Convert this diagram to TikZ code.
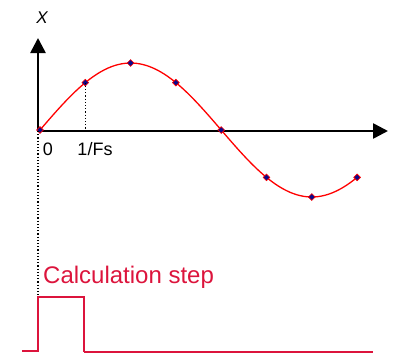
\documentclass[tikz,border=0pt]{standalone}
\usepackage{fontspec}
\setmainfont{Liberation Sans}
\usetikzlibrary{arrows.meta,shapes.geometric}
\definecolor{mycrimson}{RGB}{220,20,60}
\definecolor{mynavy}{RGB}{10,10,140}

\begin{document}
\begin{tikzpicture}[x=1pt, y=-1pt,
  axis/.style={line width=2.6pt, -{Triangle[length=15pt,width=15pt]}},
  wave/.style={red, line width=1.3pt},
  sample/.style={diamond, fill=mynavy, draw=red, line width=0.6pt, inner sep=0pt, minimum size=7pt},
  guide/.style={dotted, line width=1.2pt},
  pulse/.style={mycrimson, line width=1.8pt},
  lbl/.style={inner sep=0pt, anchor=base, font=\fontsize{18}{20}\selectfont}
]
\useasboundingbox (0,0) rectangle (393,354);
\coordinate (o) at (38,131);
\draw[axis] (o) -- (38,38) coordinate (ytip);
\draw[axis] (o) -- (388,131) coordinate (xtip);
\node[inner sep=0pt, font=\fontsize{17}{20}\selectfont\itshape] (xlab) at (42,18) {X};
\draw[wave] plot[domain=0:7, samples=90] ({40+45.3*\x},{130-67*sin(45*\x)});
\foreach \i in {0,...,7}
  \node[sample] (s\i) at ({40+45.3*\i},{130-67*sin(45*\i)}) {};
\draw[guide] (s1.center) -- (s1.center |- o);
\coordinate (ptop) at (38,297);
\draw[guide] (o) -- (ptop);
\node[lbl] (zero) at (48,155) {0};
\node[lbl] (fs) at (95,155) {1/Fs};
\node[mycrimson, inner sep=0pt, anchor=base west, font=\fontsize{24}{28}\selectfont] (calc) at (43,283) {Calculation step};
\coordinate (p0) at (22,351);
\coordinate (pend) at (84,352);
\draw[pulse] (p0) -- (ptop |- p0) -- (ptop) -- (ptop -| pend) -- (pend);
\draw[pulse, line width=1.2pt] (pend) -- (373,352);
\end{tikzpicture}
\end{document}
